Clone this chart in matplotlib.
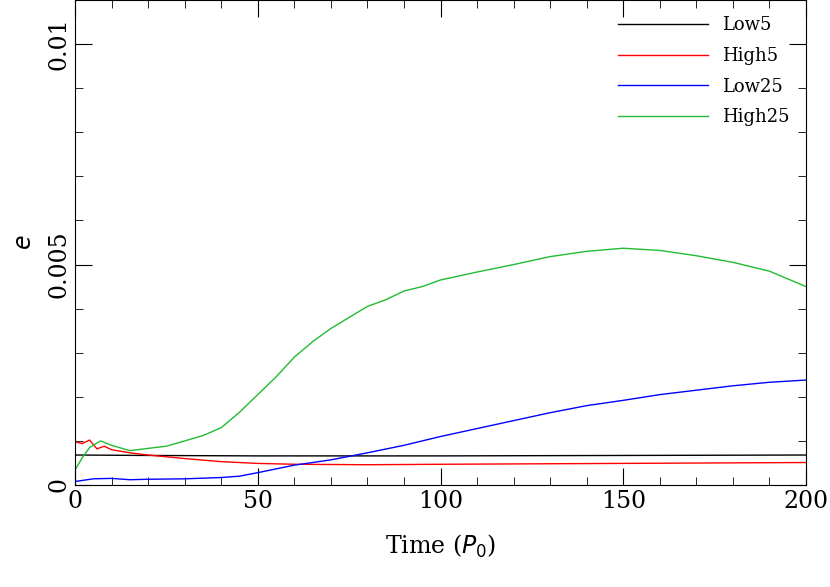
import matplotlib.pyplot as plt
from matplotlib.ticker import MultipleLocator

# values
t_black = [0, 20, 50, 100, 150, 200]
e_black = [0.00068, 0.00067, 0.00066, 0.00066, 0.00067, 0.00068]

t_red = [0, 2, 4, 6, 8, 10, 15, 20, 30, 40, 50, 60, 80, 100, 150, 200]
e_red = [0.00098, 0.00094, 0.00102, 0.00082, 0.00088, 0.00080, 0.00073, 0.00068, 0.00060, 0.00053, 0.00049, 0.00047, 0.00046, 0.00047, 0.00049, 0.00051]

t_green = [0, 2, 4, 7, 10, 15, 20, 25, 30, 35, 40, 45, 50, 55, 60, 65, 70, 75, 80, 85, 90, 95, 100, 110, 120, 130, 140, 150, 160, 170, 180, 190, 200]
e_green = [0.00034, 0.00062, 0.00085, 0.00100, 0.00090, 0.00078, 0.00083, 0.00088, 0.00100, 0.00112, 0.00130, 0.00165, 0.00205, 0.00245, 0.00290, 0.00325, 0.00355, 0.00380, 0.00405, 0.00420, 0.00440, 0.00450, 0.00465, 0.00483, 0.00500, 0.00518, 0.00530, 0.00537, 0.00532, 0.00520, 0.00505, 0.00485, 0.00450]

t_blue = [0, 5, 10, 15, 20, 30, 40, 45, 50, 60, 70, 80, 90, 100, 110, 120, 130, 140, 150, 160, 170, 180, 190, 200]
e_blue = [0.00008, 0.00014, 0.00015, 0.00012, 0.00013, 0.00014, 0.00017, 0.00020, 0.00028, 0.00045, 0.00057, 0.00073, 0.00090, 0.00110, 0.00128, 0.00146, 0.00164, 0.00180, 0.00192, 0.00205, 0.00215, 0.00225, 0.00233, 0.00238]

plt.rcParams['font.family'] = 'DejaVu Serif'
fig = plt.figure(figsize=(8.3, 5.87), dpi=100)
ax = fig.add_axes([75 / 830, 102 / 587, 731 / 830, 485 / 587])

ax.plot(t_black, e_black, color='black', lw=1, label='Low5')
ax.plot(t_red, e_red, color='red', lw=1, label='High5')
ax.plot(t_blue, e_blue, color='blue', lw=1, label='Low25')
ax.plot(t_green, e_green, color='#22bb33', lw=1, label='High25')

ax.set_xlim(0, 200)
ax.set_ylim(0, 0.011)
ax.xaxis.set_major_locator(MultipleLocator(50))
ax.xaxis.set_minor_locator(MultipleLocator(10))
ax.yaxis.set_major_locator(MultipleLocator(0.005))
ax.yaxis.set_minor_locator(MultipleLocator(0.001))
ax.set_yticks([0, 0.005, 0.01])
ax.set_yticklabels(['0', '0.005', '0.01'], rotation=90, va='center')
ax.tick_params(which='both', direction='in', top=True, right=True, labelsize=17)
ax.tick_params(which='major', length=12)
ax.tick_params(which='minor', length=6)
ax.set_xlabel('Time ($P_0$)', fontsize=17, labelpad=14)
ax.set_ylabel('$e$', fontsize=17, labelpad=8)
ax.legend(loc='upper right', frameon=False, fontsize=13, handlelength=5, labelspacing=0.7)

fig.savefig('out.png')
